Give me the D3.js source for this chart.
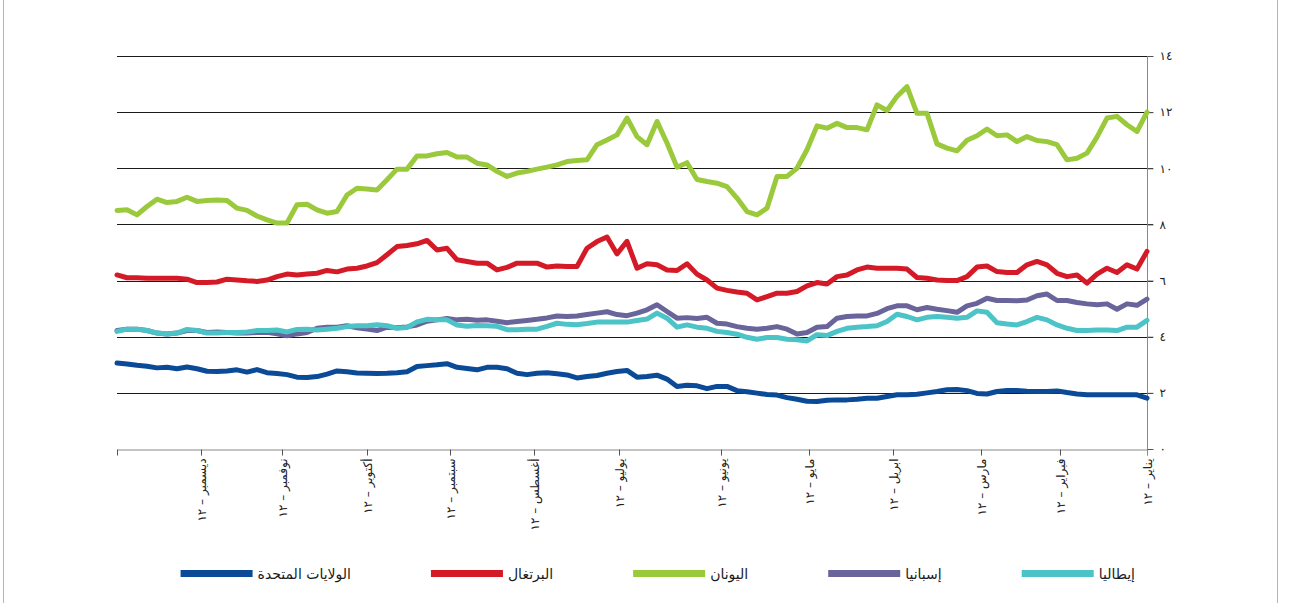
<!DOCTYPE html>
<html lang="ar">
<head>
<meta charset="UTF-8">
<title>عوائد السندات الحكومية</title>
<script src="https://cdnjs.cloudflare.com/ajax/libs/d3/7.8.5/d3.min.js"></script>
<style>
  html, body { margin: 0; padding: 0; background: #fff; }
  svg { display: block; font-family: "DejaVu Sans", sans-serif; }
</style>
</head>
<body>
<svg id="chart" width="1290" height="603"></svg>
<script>
const usa = [1.81, 1.93, 1.93, 1.93, 1.93, 1.93, 1.93, 1.96, 2.01, 2.07,
  2.05, 2.05, 2.06, 2.08, 2.08, 2.05, 1.96, 1.98, 2.08, 2.12,
  2.11, 2.05, 2.0, 1.95, 1.93, 1.93, 1.87, 1.81, 1.81, 1.77,
  1.75, 1.75, 1.74, 1.69, 1.7, 1.77, 1.83, 1.92, 1.94, 1.99,
  2.04, 2.08, 2.23, 2.23, 2.15, 2.25, 2.27, 2.23, 2.49, 2.63,
  2.58, 2.56, 2.8, 2.76, 2.7, 2.62, 2.58, 2.53, 2.64, 2.68,
  2.72, 2.7, 2.65, 2.7, 2.86, 2.91, 2.91, 2.82, 2.87, 2.91,
  3.04, 3.0, 2.97, 2.94, 2.75, 2.72, 2.7, 2.69, 2.7, 2.71,
  2.75, 2.78, 2.67, 2.58, 2.55, 2.56, 2.65, 2.69, 2.72, 2.83,
  2.74, 2.82, 2.78, 2.76, 2.77, 2.86, 2.92, 2.86, 2.91, 2.89,
  2.95, 2.98, 3.03, 3.06];

const portugal = [7.04, 6.41, 6.56, 6.29, 6.44, 6.23, 5.91, 6.2, 6.14, 6.26,
  6.56, 6.68, 6.56, 6.29, 6.29, 6.32, 6.52, 6.48, 6.14, 6.0,
  6.0, 6.02, 6.08, 6.11, 6.41, 6.44, 6.44, 6.44, 6.48, 6.38,
  6.2, 6.14, 5.88, 5.93, 5.81, 5.61, 5.55, 5.55, 5.43, 5.31,
  5.55, 5.59, 5.65, 5.73, 6.02, 6.23, 6.6, 6.36, 6.38, 6.56,
  6.6, 6.44, 7.4, 6.95, 7.55, 7.39, 7.15, 6.5, 6.5, 6.52,
  6.48, 6.62, 6.62, 6.62, 6.47, 6.38, 6.62, 6.62, 6.68, 6.74,
  7.15, 7.09, 7.43, 7.31, 7.25, 7.21, 6.92, 6.64, 6.52, 6.44,
  6.41, 6.31, 6.36, 6.26, 6.23, 6.2, 6.23, 6.14, 6.02, 5.97,
  5.99, 6.02, 6.05, 5.95, 5.93, 5.93, 6.05, 6.08, 6.08, 6.08,
  6.08, 6.1, 6.1, 6.2];

const greece = [12.0, 11.31, 11.55, 11.85, 11.79, 11.11, 10.54, 10.36, 10.3, 10.84,
  10.95, 10.99, 11.13, 10.95, 11.19, 11.16, 11.4, 11.16, 11.0, 10.62,
  10.72, 10.87, 11.96, 11.96, 12.91, 12.56, 12.06, 12.26, 11.37, 11.45,
  11.45, 11.6, 11.43, 11.51, 10.66, 10.0, 9.71, 9.71, 8.58, 8.34,
  8.46, 8.94, 9.35, 9.47, 9.53, 9.6, 10.2, 10.04, 10.9, 11.67,
  10.84, 11.13, 11.79, 11.19, 11.01, 10.84, 10.3, 10.28, 10.24, 10.12,
  10.04, 9.97, 9.89, 9.83, 9.71, 9.89, 10.12, 10.18, 10.4, 10.4,
  10.56, 10.52, 10.44, 10.44, 9.97, 9.97, 9.59, 9.23, 9.26, 9.29,
  9.05, 8.46, 8.4, 8.52, 8.72, 8.7, 8.05, 8.05, 8.16, 8.3,
  8.5, 8.58, 8.85, 8.87, 8.85, 8.82, 8.97, 8.82, 8.78, 8.9,
  8.64, 8.34, 8.52, 8.5];

const spain = [5.34, 5.12, 5.17, 4.98, 5.17, 5.14, 5.17, 5.22, 5.29, 5.29,
  5.52, 5.46, 5.31, 5.28, 5.29, 5.29, 5.37, 5.19, 5.1, 4.87,
  4.93, 4.98, 5.04, 4.96, 5.1, 5.1, 5.0, 4.83, 4.74, 4.74,
  4.72, 4.66, 4.36, 4.34, 4.15, 4.1, 4.27, 4.36, 4.3, 4.27,
  4.3, 4.36, 4.45, 4.48, 4.69, 4.65, 4.68, 4.66, 4.9, 5.14,
  4.96, 4.84, 4.75, 4.79, 4.89, 4.84, 4.79, 4.74, 4.72, 4.74,
  4.67, 4.62, 4.58, 4.54, 4.5, 4.55, 4.6, 4.59, 4.62, 4.6,
  4.65, 4.6, 4.55, 4.42, 4.35, 4.32, 4.34, 4.22, 4.27, 4.32,
  4.39, 4.34, 4.34, 4.3, 4.15, 4.1, 4.03, 4.1, 4.16, 4.15,
  4.13, 4.13, 4.15, 4.17, 4.15, 4.22, 4.22, 4.13, 4.1, 4.13,
  4.22, 4.27, 4.27, 4.22];

const italy = [4.58, 4.34, 4.34, 4.22, 4.24, 4.24, 4.22, 4.22, 4.3, 4.42,
  4.6, 4.69, 4.54, 4.42, 4.45, 4.5, 4.87, 4.92, 4.69, 4.66,
  4.69, 4.72, 4.69, 4.6, 4.72, 4.8, 4.54, 4.39, 4.36, 4.34,
  4.3, 4.19, 4.04, 4.07, 3.85, 3.89, 3.91, 3.97, 3.97, 3.91,
  3.98, 4.09, 4.15, 4.19, 4.3, 4.34, 4.42, 4.34, 4.66, 4.84,
  4.63, 4.58, 4.52, 4.52, 4.52, 4.52, 4.47, 4.43, 4.44, 4.48,
  4.37, 4.27, 4.27, 4.25, 4.25, 4.37, 4.39, 4.4, 4.37, 4.42,
  4.6, 4.6, 4.62, 4.53, 4.33, 4.3, 4.39, 4.43, 4.39, 4.39,
  4.36, 4.3, 4.27, 4.24, 4.27, 4.26, 4.17, 4.24, 4.22, 4.22,
  4.17, 4.15, 4.15, 4.13, 4.13, 4.22, 4.26, 4.13, 4.1, 4.13,
  4.22, 4.27, 4.27, 4.19];

// month ticks: position in observation index, and label
const monthTicks = [0, 8.7, 16.6, 25.4, 33.8, 42.6, 52.8, 61.3, 69.7, 78, 86.5, 94.6, 103];
const monthLabels = ["يناير – ١٢", "فبراير – ١٢", "مارس – ١٢", "ابريل – ١٢", "مايو – ١٢", "يونيو – ١٢",
  "يوليو – ١٢", "أغسطس – ١٢", "سبتمبر – ١٢", "أكتوبر – ١٢", "نوفمبر – ١٢", "ديسمبر – ١٢", ""];

const yTicks = [0, 2, 4, 6, 8, 10, 12, 14];
const yTickLabels = ["٠", "٢", "٤", "٦", "٨", "١٠", "١٢", "١٤"];

const seriesNames = ["الولايات المتحدة", "البرتغال", "اليونان", "إسبانيا", "إيطاليا"];
const seriesColors = ["#0b4a96", "#d51a27", "#9bc93c", "#69659b", "#4bc3c7"];
const seriesValues = [usa, portugal, greece, spain, italy];

const svg = d3.select("#chart");

// thin frame at the left and right edges of the picture
svg.append("g")
  .selectAll("line")
  .data([3.5, 1277.5])
  .join("line")
  .attr("x1", d => d).attr("x2", d => d)
  .attr("y1", 0).attr("y2", 603)
  .attr("stroke", "#b5b5b5");

// time runs right to left
const x = d3.scaleLinear().domain([0, usa.length - 1]).range([1147, 117]);
const y = d3.scaleLinear().domain([0, 14]).range([449, 56]);

// horizontal grid
svg.append("g")
  .selectAll("line")
  .data(yTicks.filter(d => d > 0))
  .join("line")
  .attr("x1", 117).attr("x2", 1153)
  .attr("y1", d => Math.round(y(d)) + 0.5)
  .attr("y2", d => Math.round(y(d)) + 0.5)
  .attr("stroke", "#1a1a1a")
  .attr("stroke-width", 1);

// x axis line + month ticks
const xAxis = d3.axisBottom(x)
  .tickValues(monthTicks)
  .tickFormat((d, i) => monthLabels[i])
  .tickSizeInner(6)
  .tickSizeOuter(0);

const gx = svg.append("g")
  .attr("transform", `translate(0,${Math.round(y(0)) + 0.5})`)
  .call(xAxis);
gx.select(".domain").attr("stroke", "#8a8a8a");
gx.selectAll(".tick line").attr("stroke", "#555");
gx.selectAll(".tick text")
  .attr("font-size", 12)
  .attr("fill", "#222")
  .attr("font-family", "DejaVu Sans")
  .attr("text-anchor", "end")
  .attr("transform", "translate(0,9) rotate(-90)")
  .attr("x", 0).attr("y", 0).attr("dy", "0.35em");

// right y axis
const yAxis = d3.axisRight(y)
  .tickValues(yTicks)
  .tickFormat((d, i) => yTickLabels[i])
  .tickSizeInner(6)
  .tickSizeOuter(0)
  .tickPadding(6);

const gy = svg.append("g")
  .attr("transform", `translate(${Math.round(x(0)) + 0.5},0)`)
  .call(yAxis);
gy.select(".domain").attr("stroke", "#8a8a8a").attr("d", `M0,${y(14)}V${y(0) + 6}`);
gy.selectAll(".tick line").attr("stroke", "#555");
gy.selectAll(".tick text")
  .attr("font-size", 12)
  .attr("fill", "#222")
  .attr("font-family", "DejaVu Sans");

// lines
const line = d3.line()
  .x((d, i) => x(i))
  .y(d => y(d));

svg.append("g")
  .selectAll("path")
  .data(seriesValues)
  .join("path")
  .attr("d", line)
  .attr("fill", "none")
  .attr("stroke", (d, i) => seriesColors[i])
  .attr("stroke-width", 5)
  .attr("stroke-linejoin", "round")
  .attr("stroke-linecap", "round");

// legend, laid out from the right
const legend = svg.append("g");
let rightEdge = 1135;
for (let i = seriesNames.length - 1; i >= 0; i--) {
  const t = legend.append("text")
    .attr("x", rightEdge)
    .attr("y", 574)
    .attr("dy", "0.35em")
    .attr("text-anchor", "end")
    .attr("font-size", 14)
    .attr("fill", "#1a1a1a")
    .text(seriesNames[i]);
  const w = t.node().getComputedTextLength();
  const swRight = rightEdge - w - 5;
  legend.append("rect")
    .attr("x", swRight - 72)
    .attr("y", 570)
    .attr("width", 72)
    .attr("height", 7)
    .attr("fill", seriesColors[i]);
  rightEdge = swRight - 72 - 80;
}
</script>
</body>
</html>
